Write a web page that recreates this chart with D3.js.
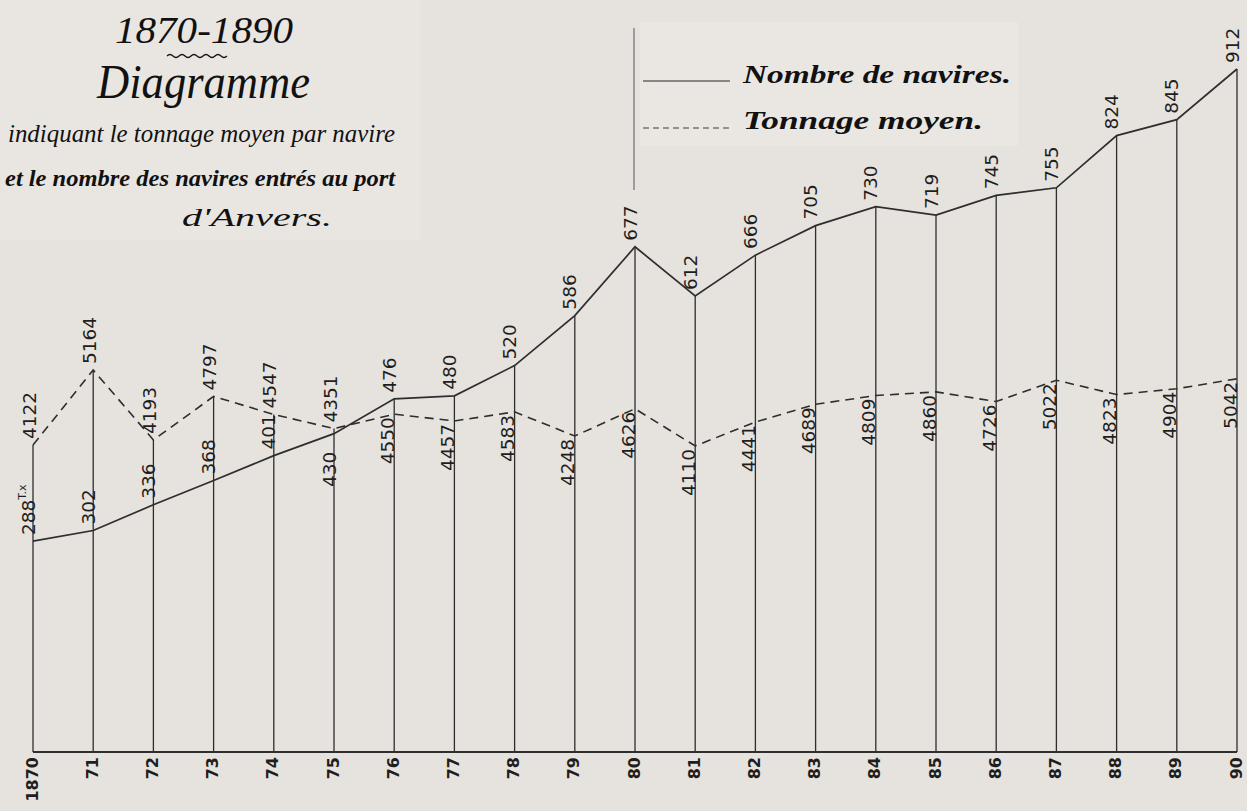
<!DOCTYPE html>
<html>
<head>
<meta charset="utf-8">
<script src="https://cdn.jsdelivr.net/npm/d3@7/dist/d3.min.js"></script>
<style>
  html, body { margin: 0; padding: 0; background: #e6e2dd; }
  svg { display: block; }
</style>
</head>
<body>
<svg id="chart" width="1247" height="811"></svg>
<script>
// ---- data ----
const years = [1870, 1871, 1872, 1873, 1874, 1875, 1876, 1877, 1878, 1879, 1880,
               1881, 1882, 1883, 1884, 1885, 1886, 1887, 1888, 1889, 1890];
const yearLabels = ["1870", "71", "72", "73", "74", "75", "76", "77", "78", "79", "80",
                    "81", "82", "83", "84", "85", "86", "87", "88", "89", "90"];
const ships = [288, 302, 336, 368, 401, 430, 476, 480, 520, 586, 677,
               612, 666, 705, 730, 719, 745, 755, 824, 845, 912];
const tonnage = [4122, 5164, 4193, 4797, 4547, 4351, 4550, 4457, 4583, 4248, 4626,
                 4110, 4441, 4689, 4809, 4860, 4726, 5022, 4823, 4904, 5042];
const shipsUnit = "T.x";
const titleLines = ["1870-1890", "Diagramme", "indiquant le tonnage moyen par navire",
                    "et le nombre des navires entrés au port", "d'Anvers."];
const legendLabels = ["Nombre de navires.", "Tonnage moyen."];

// ---- drawing ----
const svg = d3.select("#chart");
const ink = "#2e2e2e";
const numFont = "'DejaVu Sans', sans-serif";
const scriptFont = "'Liberation Serif', serif";

svg.append("rect").attr("width", 1247).attr("height", 811).attr("fill", "#e6e2dd");
svg.append("rect").attr("x", 0).attr("y", 0).attr("width", 420).attr("height", 240).attr("fill", "#e9e6e2");
svg.append("rect").attr("x", 640).attr("y", 22).attr("width", 378).attr("height", 124).attr("fill", "#eae7e3");

const x = d3.scaleLinear().domain([1870, 1890]).range([33, 1237]);
const yS = d3.scaleLinear().domain([0, 912]).range([759, 69]);
const yT = d3.scaleLinear().domain([0, 5164]).range([742, 370]);
const baseY = 752;

const rows = years.map((yr, i) => ({yr, label: yearLabels[i], s: ships[i], t: tonnage[i]}));

// vertical lines
svg.append("g").selectAll("line").data(rows).join("line")
  .attr("x1", d => x(d.yr)).attr("x2", d => x(d.yr))
  .attr("y1", baseY)
  .attr("y2", d => Math.min(yS(d.s), yT(d.t)))
  .attr("stroke", ink).attr("stroke-width", 1.3);

// baseline
svg.append("line").attr("x1", x(1870)).attr("x2", x(1890))
  .attr("y1", baseY).attr("y2", baseY).attr("stroke", ink).attr("stroke-width", 1.8);

// series lines
svg.append("path").datum(rows)
  .attr("d", d3.line().x(d => x(d.yr)).y(d => yS(d.s)))
  .attr("fill", "none").attr("stroke", ink).attr("stroke-width", 1.7);
svg.append("path").datum(rows)
  .attr("d", d3.line().x(d => x(d.yr)).y(d => yT(d.t)))
  .attr("fill", "none").attr("stroke", ink).attr("stroke-width", 1.6)
  .attr("stroke-dasharray", "9,6");

// value labels
const lab = svg.append("g").attr("font-family", numFont).attr("font-size", 18.5)
  .attr("fill", "#1e1e1e");

rows.forEach((d, i) => {
  const px = x(d.yr);
  const ys = yS(d.s), yt = yT(d.t);
  const tonAbove = yt < ys;
  // ships label
  let sAnchor = "start", sy = ys - 6;
  if (tonAbove && Math.abs(ys - yt) < 20) { sAnchor = "end"; sy = ys + 18; }
  const st = lab.append("text")
    .attr("transform", `translate(${px - 5},${sy}) rotate(-90)`)
    .attr("text-anchor", sAnchor).attr("dominant-baseline", "central")
    .text(d.s);
  if (i === 0) {
    st.append("tspan").attr("font-size", 11).attr("dy", -6).text(shipsUnit);
  }
  // tonnage label
  if (tonAbove) {
    lab.append("text")
      .attr("transform", `translate(${px - 4},${yt - 6}) rotate(-90)`)
      .attr("text-anchor", "start").attr("dominant-baseline", "central")
      .text(d.t);
  } else {
    lab.append("text")
      .attr("transform", `translate(${px - 7},${yt + 3}) rotate(-90)`)
      .attr("text-anchor", "end").attr("dominant-baseline", "central")
      .text(d.t);
  }
});

// year labels
svg.append("g").selectAll("text").data(rows).join("text")
  .attr("transform", d => `translate(${x(d.yr) - 1},${baseY + 5}) rotate(-90)`)
  .attr("text-anchor", "end").attr("dominant-baseline", "central")
  .attr("font-family", numFont).attr("font-size", 16).attr("font-weight", "bold")
  .attr("fill", "#1e1e1e")
  .text(d => d.label);

// title
const tg = svg.append("g").attr("font-family", scriptFont).attr("font-style", "italic").attr("fill", "#111");
tg.append("text").attr("x", 115).attr("y", 43).attr("font-size", 38)
  .attr("textLength", 178).attr("lengthAdjust", "spacingAndGlyphs").text(titleLines[0]);
tg.append("path").attr("d", "M167,56 q3,-3 6,0 t6,0 t6,0 t6,0 t6,0 t6,0 t6,0 t6,0 t6,0 t6,0")
  .attr("fill", "none").attr("stroke", "#111").attr("stroke-width", 1.3);
tg.append("text").attr("x", 97).attr("y", 98).attr("font-size", 48)
  .attr("textLength", 213).attr("lengthAdjust", "spacingAndGlyphs").text(titleLines[1]);
tg.append("text").attr("x", 8).attr("y", 142).attr("font-size", 25)
  .attr("textLength", 387).attr("lengthAdjust", "spacingAndGlyphs").text(titleLines[2]);
tg.append("text").attr("x", 5).attr("y", 186).attr("font-size", 23).attr("font-weight", "bold")
  .attr("textLength", 390).attr("lengthAdjust", "spacingAndGlyphs").text(titleLines[3]);
tg.append("text").attr("x", 182).attr("y", 226).attr("font-size", 25)
  .attr("textLength", 150).attr("lengthAdjust", "spacingAndGlyphs").text(titleLines[4]);

// legend
svg.append("line").attr("x1", 634).attr("x2", 634).attr("y1", 28).attr("y2", 190)
  .attr("stroke", "#777").attr("stroke-width", 1.3);
svg.append("line").attr("x1", 643).attr("x2", 730).attr("y1", 81).attr("y2", 81)
  .attr("stroke", "#666").attr("stroke-width", 1.5);
svg.append("line").attr("x1", 643).attr("x2", 730).attr("y1", 128).attr("y2", 128)
  .attr("stroke", "#777").attr("stroke-width", 1.4).attr("stroke-dasharray", "6,4");
const lg = svg.append("g").attr("font-family", scriptFont).attr("font-style", "italic")
  .attr("font-weight", "bold").attr("fill", "#111");
lg.append("text").attr("x", 743).attr("y", 83).attr("font-size", 25)
  .attr("textLength", 268).attr("lengthAdjust", "spacingAndGlyphs").text(legendLabels[0]);
lg.append("text").attr("x", 743).attr("y", 129).attr("font-size", 25)
  .attr("textLength", 240).attr("lengthAdjust", "spacingAndGlyphs").text(legendLabels[1]);
</script>
</body>
</html>
